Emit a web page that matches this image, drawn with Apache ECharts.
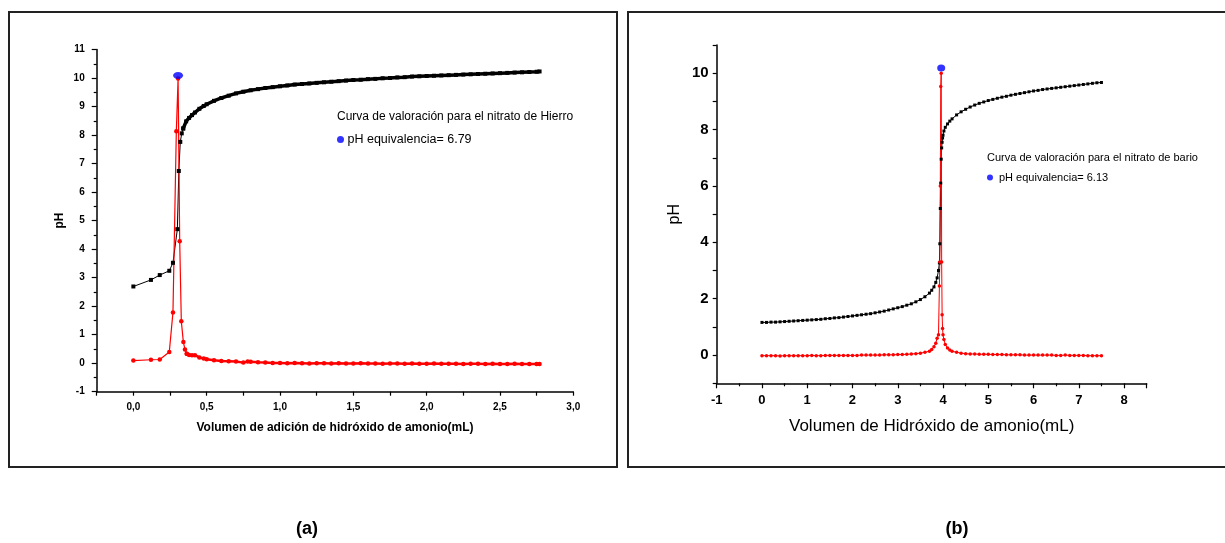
<!DOCTYPE html>
<html>
<head>
<meta charset="utf-8">
<script src="https://cdn.jsdelivr.net/npm/echarts@6/dist/echarts.min.js"></script>
<style>
html,body{margin:0;padding:0;background:#fff;}
#main{width:1225px;height:543px;}
</style>
</head>
<body>
<div id="main"></div>
<script>
// ---------- (a) Nitrato de Hierro ----------
const feVolPH = [0, 0.12, 0.18, 0.245, 0.27, 0.30, 0.31, 0.32, 0.33, 0.34, 0.36, 0.38, 0.40, 0.42, 0.45, 0.48,
  0.50, 0.55, 0.60, 0.65, 0.70, 0.75, 0.80, 0.85, 0.90, 0.95, 1.00, 1.05, 1.10, 1.15, 1.20, 1.25, 1.30, 1.35,
  1.40, 1.45, 1.50, 1.55, 1.60, 1.65, 1.70, 1.75, 1.80, 1.85, 1.90, 1.95, 2.00, 2.05, 2.10, 2.15, 2.20, 2.25,
  2.30, 2.35, 2.40, 2.45, 2.50, 2.55, 2.60, 2.65, 2.70, 2.75, 2.77];
const fePH = [2.69, 2.92, 3.09, 3.24, 3.52, 4.70, 6.74, 7.76, 8.06, 8.23, 8.48, 8.60, 8.70, 8.79, 8.92, 9.02,
  9.08, 9.20, 9.30, 9.38, 9.46, 9.52, 9.57, 9.61, 9.65, 9.68, 9.71, 9.74, 9.77, 9.79, 9.81, 9.83, 9.85, 9.87,
  9.89, 9.91, 9.93, 9.94, 9.96, 9.97, 9.99, 10.00, 10.02, 10.03, 10.05, 10.06, 10.07, 10.08, 10.09, 10.10, 10.11, 10.12,
  10.13, 10.14, 10.15, 10.16, 10.17, 10.18, 10.19, 10.20, 10.21, 10.22, 10.23];
const feVolDeriv = [0, 0.12, 0.18, 0.245, 0.27, 0.293, 0.305, 0.316, 0.327, 0.341, 0.352, 0.364, 0.38, 0.40, 0.42, 0.45, 0.48,
  0.50, 0.55, 0.60, 0.65, 0.70, 0.75, 0.78, 0.80, 0.85, 0.90, 0.95, 1.00,
  1.05, 1.10, 1.15, 1.20, 1.25, 1.30, 1.35, 1.40, 1.45, 1.50, 1.55, 1.60, 1.65, 1.70, 1.75, 1.80, 1.85, 1.90,
  1.95, 2.00, 2.05, 2.10, 2.15, 2.20, 2.25, 2.30, 2.35, 2.40, 2.45, 2.50, 2.55, 2.60, 2.65, 2.70, 2.75, 2.77];
const feDeriv = [0.09, 0.12, 0.13, 0.39, 1.78, 8.13, 9.98, 4.28, 1.47, 0.74, 0.48, 0.33, 0.29, 0.28, 0.28, 0.20, 0.16,
  0.14, 0.10, 0.08, 0.07, 0.06, 0.02, 0.06, 0.05, 0.03, 0.02, 0.01, 0.01,
  0.00, 0.01, 0.00, -0.01, 0.00, 0.00, -0.01, 0.00, -0.01, -0.01, 0.00, -0.01, -0.01, -0.02, -0.01, -0.01, -0.02, -0.01,
  -0.02, -0.02, -0.01, -0.02, -0.02, -0.02, -0.03, -0.02, -0.02, -0.03, -0.02, -0.03, -0.03, -0.02, -0.03, -0.03, -0.03, -0.03];
const feEquiv = [[0.305, 10.09]];
const feTitle = 'Curva de valoración para el nitrato de Hierro';
const feEqName = 'pH equivalencia= 6.79';
const feXName = 'Volumen de adición de hidróxido de amonio(mL)';

// ---------- (b) Nitrato de Bario ----------
const baVol = [0, 0.1, 0.2, 0.3, 0.4, 0.5, 0.6, 0.7, 0.8, 0.9, 1.0, 1.1, 1.2, 1.3, 1.4, 1.5, 1.6, 1.7, 1.8, 1.9,
  2.0, 2.1, 2.2, 2.3, 2.4, 2.5, 2.6, 2.7, 2.8, 2.9, 3.0, 3.1, 3.2, 3.3, 3.4, 3.5, 3.6, 3.7,
  3.75, 3.8, 3.84, 3.87, 3.9, 3.92, 3.93, 3.94, 3.95, 3.96, 3.97, 3.98, 3.99, 4.0, 4.02, 4.05, 4.1, 4.15, 4.2,
  4.3, 4.4, 4.5, 4.6, 4.7, 4.8, 4.9, 5.0, 5.1, 5.2, 5.3, 5.4, 5.5, 5.6, 5.7, 5.8, 5.9, 6.0, 6.1, 6.2, 6.3,
  6.4, 6.5, 6.6, 6.7, 6.8, 6.9, 7.0, 7.1, 7.2, 7.3, 7.4, 7.5];
const baPH = [1.16, 1.16, 1.17, 1.17, 1.18, 1.19, 1.20, 1.21, 1.22, 1.23, 1.24, 1.25, 1.26, 1.27, 1.29, 1.30, 1.32, 1.33, 1.35, 1.37,
  1.39, 1.41, 1.43, 1.45, 1.47, 1.50, 1.53, 1.56, 1.60, 1.64, 1.68, 1.72, 1.77, 1.82, 1.89, 1.97, 2.07, 2.20,
  2.30, 2.42, 2.58, 2.74, 3.00, 3.27, 3.95, 5.20, 6.10, 6.95, 7.35, 7.55, 7.70, 7.80, 7.95, 8.08, 8.20, 8.30, 8.38,
  8.52, 8.63, 8.72, 8.80, 8.87, 8.93, 8.98, 9.03, 9.07, 9.11, 9.15, 9.18, 9.22, 9.25, 9.28, 9.31, 9.34, 9.37, 9.39, 9.42, 9.44,
  9.46, 9.48, 9.50, 9.52, 9.54, 9.56, 9.58, 9.60, 9.62, 9.64, 9.66, 9.67];
const baDeriv = [-0.02, -0.02, -0.02, -0.02, -0.03, -0.02, -0.02, -0.02, -0.02, -0.02, -0.02, -0.01, -0.02, -0.02, -0.01, -0.01, -0.01, -0.01, -0.01, -0.01,
  -0.01, -0.01, 0.00, 0.00, 0.00, 0.00, 0.00, 0.01, 0.01, 0.01, 0.02, 0.02, 0.03, 0.04, 0.05, 0.07, 0.10, 0.14,
  0.20, 0.30, 0.42, 0.60, 0.72, 2.45, 3.30, 6.00, 9.53, 10.00, 3.30, 1.43, 0.94, 0.72, 0.55, 0.38, 0.25, 0.18, 0.14,
  0.10, 0.07, 0.05, 0.04, 0.04, 0.03, 0.03, 0.03, 0.02, 0.02, 0.02, 0.01, 0.01, 0.01, 0.01, 0.00, 0.00, 0.00, 0.00, 0.00,
  0.00, 0.00, -0.01, -0.01, 0.00, -0.01, -0.01, -0.01, -0.01, -0.02, -0.02, -0.02, -0.02];
const baEquiv = [[3.96, 10.18]];
const baTitle = 'Curva de valoración para el nitrato de bario';
const baEqName = 'pH equivalencia= 6.13';
const baXName = 'Volumen de Hidróxido de amonio(mL)';

const panelLabels = ['(a)', '(b)'];

// ---------- build ----------
const zip = (xs, ys) => xs.map((x, i) => [x, ys[i]]);
const FONT = '"Liberation Sans", Arial, sans-serif';
const ELLIPSE = 'path://M0,5a5,5 0 1,0 10,0a5,5 0 1,0 -10,0';
const axisLineStyle = {show: true, onZero: false, lineStyle: {color: '#000', width: 1.5}};

const chart = echarts.init(document.getElementById('main'), null, {renderer: 'canvas'});
const option = {
  animation: false,
  backgroundColor: '#fff',
  textStyle: {fontFamily: FONT},
  title: [
    {text: feTitle, left: 337, top: 111, padding: 0,
     textStyle: {fontSize: 12, fontWeight: 'normal', color: '#000', fontFamily: FONT}},
    {text: baTitle, left: 987, top: 152, padding: 0,
     textStyle: {fontSize: 11, fontWeight: 'normal', color: '#000', fontFamily: FONT}}
  ],
  legend: [
    {data: [{name: feEqName, icon: ELLIPSE}], left: 337, top: 133, padding: 0, itemWidth: 10, itemHeight: 7,
     selectedMode: false, textStyle: {fontSize: 12.5, color: '#000', fontFamily: FONT, padding: [0, 0, 0, -3]}},
    {data: [{name: baEqName, icon: ELLIPSE}], left: 987, top: 172, padding: 0, itemWidth: 6, itemHeight: 10,
     selectedMode: false, textStyle: {fontSize: 11, color: '#000', fontFamily: FONT, padding: [0, 0, 0, 1]}}
  ],
  grid: [
    {left: 96.7, top: 49.5, width: 476.6, height: 342.2},
    {left: 716.7, top: 45, width: 430, height: 338.3}
  ],
  xAxis: [
    {gridIndex: 0, type: 'value', min: -0.25, max: 3, interval: 0.25,
     axisLine: axisLineStyle, splitLine: {show: false},
     axisTick: {show: true, length: 4, lineStyle: {color: '#000', width: 1.2}},
     axisLabel: {margin: 11, fontSize: 10, fontWeight: 'bold', color: '#000', fontFamily: FONT,
       formatter: v => (v >= 0 && Math.abs(v * 2 - Math.round(v * 2)) < 1e-6) ? v.toFixed(1).replace('.', ',') : ''},
     name: feXName, nameLocation: 'middle', nameGap: 30,
     nameTextStyle: {fontSize: 12, fontWeight: 'bold', color: '#000', fontFamily: FONT}},
    {gridIndex: 1, type: 'value', min: -1, max: 8.5, interval: 1,
     axisLine: axisLineStyle, splitLine: {show: false},
     axisTick: {show: true, length: 5, lineStyle: {color: '#000', width: 1.2}},
     minorTick: {show: true, splitNumber: 2, length: 3, lineStyle: {color: '#000', width: 1.2}},
     axisLabel: {margin: 11, fontSize: 13, fontWeight: 'bold', color: '#000', fontFamily: FONT,
       formatter: v => Number.isInteger(v) ? String(v) : ''},
     name: baXName, nameLocation: 'middle', nameGap: 35,
     nameTextStyle: {fontSize: 17, color: '#000', fontFamily: FONT}}
  ],
  yAxis: [
    {gridIndex: 0, type: 'value', min: -1, max: 11, interval: 1,
     axisLine: axisLineStyle, splitLine: {show: false},
     axisTick: {show: true, length: 5, lineStyle: {color: '#000', width: 1.2}},
     minorTick: {show: true, splitNumber: 2, length: 3, lineStyle: {color: '#000', width: 1.2}},
     axisLabel: {margin: 12, fontSize: 10, fontWeight: 'bold', color: '#000', fontFamily: FONT},
     name: 'pH', nameLocation: 'middle', nameGap: 31,
     nameTextStyle: {fontSize: 12, fontWeight: 'bold', color: '#000', fontFamily: FONT}},
    {gridIndex: 1, type: 'value', min: -1, max: 11, interval: 1,
     axisLine: axisLineStyle, splitLine: {show: false},
     axisTick: {show: true, length: 4, lineStyle: {color: '#000', width: 1.2}},
     axisLabel: {margin: 8, fontSize: 15, fontWeight: 'bold', color: '#000', fontFamily: FONT,
       formatter: v => (v >= 0 && v <= 10 && v % 2 === 0) ? String(v) : ''},
     name: 'pH', nameLocation: 'middle', nameGap: 34,
     nameTextStyle: {fontSize: 16, color: '#000', fontFamily: FONT}}
  ],
  series: [
    {name: 'pH Fe', type: 'line', xAxisIndex: 0, yAxisIndex: 0,
     data: zip(feVolPH.slice(0, 10), fePH.slice(0, 10)),
     symbol: 'rect', symbolSize: 4, itemStyle: {color: '#000'}, lineStyle: {color: '#000', width: 1}},
    {name: 'pH Fe2', type: 'line', xAxisIndex: 0, yAxisIndex: 0,
     data: zip(feVolPH.slice(9), fePH.slice(9)),
     symbol: 'rect', symbolSize: 4, itemStyle: {color: '#000'}, lineStyle: {color: '#000', width: 3.5}},
    {name: 'd Fe', type: 'line', xAxisIndex: 0, yAxisIndex: 0,
     data: zip(feVolDeriv.slice(0, 12), feDeriv.slice(0, 12)),
     symbol: 'circle', symbolSize: 4.5, itemStyle: {color: '#ff0000'}, lineStyle: {color: '#ff0000', width: 1.2}},
    {name: 'd Fe2', type: 'line', xAxisIndex: 0, yAxisIndex: 0,
     data: zip(feVolDeriv.slice(11), feDeriv.slice(11)),
     symbol: 'circle', symbolSize: 4.5, itemStyle: {color: '#ff0000'}, lineStyle: {color: '#ff0000', width: 2.5}},
    {name: feEqName, type: 'scatter', xAxisIndex: 0, yAxisIndex: 0, z: 5,
     data: feEquiv, symbol: ELLIPSE, symbolSize: [10, 7], itemStyle: {color: '#0000ff'}},

    {name: 'pH Ba', type: 'line', xAxisIndex: 1, yAxisIndex: 1,
     data: zip(baVol, baPH),
     symbol: 'rect', symbolSize: 3, itemStyle: {color: '#000'}, lineStyle: {color: '#000', width: 1}},
    {name: 'd Ba', type: 'line', xAxisIndex: 1, yAxisIndex: 1,
     data: zip(baVol, baDeriv),
     symbol: 'circle', symbolSize: 3.5, itemStyle: {color: '#ff0000'}, lineStyle: {color: '#ff0000', width: 1}},
    {name: baEqName, type: 'scatter', xAxisIndex: 1, yAxisIndex: 1, z: 5,
     data: baEquiv, symbol: ELLIPSE, symbolSize: [8, 7], itemStyle: {color: '#0000ff'}}
  ],
  graphic: [
    {type: 'rect', shape: {x: 9, y: 12, width: 608, height: 455},
     style: {fill: 'none', stroke: '#222', lineWidth: 2}, silent: true},
    {type: 'rect', shape: {x: 628, y: 12, width: 610, height: 455},
     style: {fill: 'none', stroke: '#222', lineWidth: 2}, silent: true},
    {type: 'text', x: 307, y: 529, style: {text: panelLabels[0], fill: '#000',
     font: 'bold 18px ' + FONT, textAlign: 'center', textVerticalAlign: 'middle'}},
    {type: 'text', x: 957, y: 529, style: {text: panelLabels[1], fill: '#000',
     font: 'bold 18px ' + FONT, textAlign: 'center', textVerticalAlign: 'middle'}}
  ]
};
chart.setOption(option);
</script>
</body>
</html>
